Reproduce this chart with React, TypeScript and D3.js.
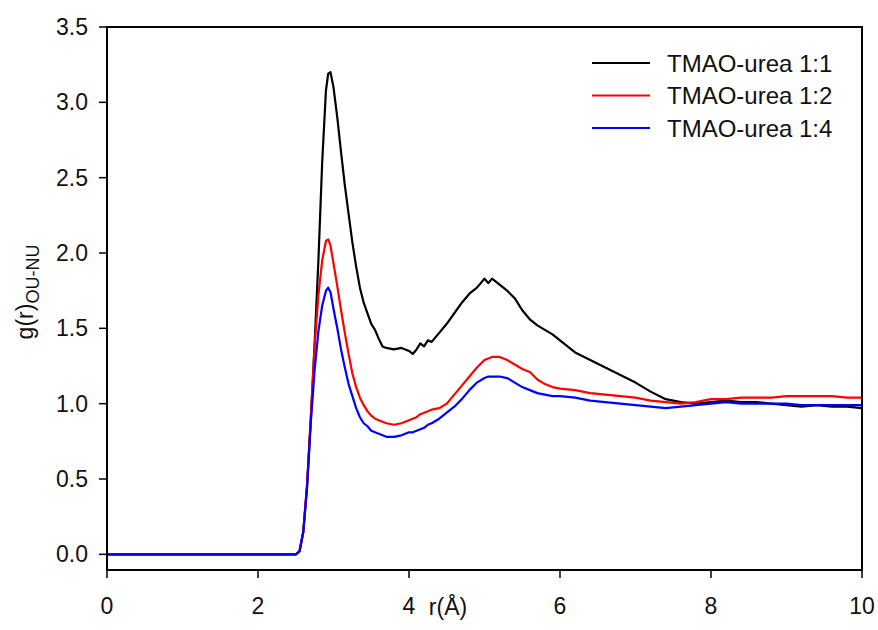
import React from "react";
import * as d3 from "d3";

const rValues = [0, 2.5, 2.55, 2.6, 2.65, 2.7, 2.75, 2.8, 2.85, 2.9, 2.93, 2.96, 3.0, 3.05, 3.1, 3.15, 3.2, 3.25, 3.3, 3.35, 3.4, 3.45, 3.5, 3.55, 3.6, 3.65, 3.7, 3.8, 3.9, 4.0, 4.05, 4.1, 4.15, 4.2, 4.25, 4.3, 4.4, 4.5, 4.6, 4.7, 4.8, 4.9, 5.0, 5.05, 5.1, 5.2, 5.3, 5.4, 5.5, 5.6, 5.7, 5.8, 5.9, 6.0, 6.2, 6.4, 6.6, 6.8, 7.0, 7.2, 7.4, 7.6, 7.8, 8.0, 8.2, 8.4, 8.6, 8.8, 9.0, 9.2, 9.4, 9.6, 9.8, 10.0];

const gRatio11 = [0, 0, 0.02, 0.15, 0.45, 0.9, 1.4, 1.95, 2.6, 3.08, 3.19, 3.2, 3.1, 2.9, 2.67, 2.45, 2.26, 2.07, 1.91, 1.77, 1.67, 1.6, 1.53, 1.49, 1.43, 1.38, 1.37, 1.36, 1.37, 1.35, 1.33, 1.36, 1.40, 1.38, 1.42, 1.41, 1.47, 1.53, 1.60, 1.67, 1.73, 1.77, 1.83, 1.80, 1.83, 1.79, 1.75, 1.70, 1.62, 1.56, 1.52, 1.49, 1.46, 1.42, 1.34, 1.29, 1.24, 1.19, 1.14, 1.08, 1.03, 1.01, 1.00, 1.01, 1.02, 1.01, 1.01, 1.00, 0.99, 0.98, 0.99, 0.98, 0.98, 0.97];

const gRatio12 = [0, 0, 0.02, 0.15, 0.47, 0.92, 1.38, 1.72, 1.95, 2.08, 2.09, 2.05, 1.93, 1.78, 1.62, 1.47, 1.33, 1.2, 1.11, 1.04, 0.99, 0.95, 0.92, 0.9, 0.89, 0.88, 0.87, 0.86, 0.87, 0.89, 0.9, 0.91, 0.93, 0.94, 0.95, 0.96, 0.97, 1.0, 1.06, 1.12, 1.18, 1.24, 1.29, 1.3, 1.31, 1.31, 1.29, 1.26, 1.23, 1.21, 1.16, 1.13, 1.11, 1.1, 1.09, 1.07, 1.06, 1.05, 1.04, 1.02, 1.01, 1.0, 1.01, 1.03, 1.03, 1.04, 1.04, 1.04, 1.05, 1.05, 1.05, 1.05, 1.04, 1.04];

const gRatio14 = [0, 0, 0.02, 0.15, 0.45, 0.88, 1.22, 1.48, 1.65, 1.75, 1.77, 1.74, 1.63, 1.5, 1.36, 1.24, 1.13, 1.05, 0.97, 0.91, 0.87, 0.85, 0.82, 0.81, 0.8, 0.79, 0.78, 0.78, 0.79, 0.81, 0.81, 0.82, 0.83, 0.84, 0.86, 0.87, 0.9, 0.94, 0.98, 1.03, 1.09, 1.14, 1.17, 1.18, 1.18, 1.18, 1.17, 1.14, 1.11, 1.09, 1.07, 1.06, 1.05, 1.05, 1.04, 1.02, 1.01, 1.0, 0.99, 0.98, 0.97, 0.98, 0.99, 1.0, 1.01, 1.0, 1.0, 1.0, 1.0, 0.99, 0.99, 0.99, 0.99, 0.99];

const seriesNames = ["TMAO-urea 1:1", "TMAO-urea 1:2", "TMAO-urea 1:4"];
const seriesColors = ["#000000", "#ff0000", "#0000ff"];
const xTicks = [0, 2, 4, 6, 8, 10];
const yTicks = [0, 0.5, 1.0, 1.5, 2.0, 2.5, 3.0, 3.5];

const W = 878;
const H = 630;
const left = 107;
const right = 862;
const top = 27;
const bottom = 570;
const FONT = "'Liberation Sans', Arial, sans-serif";

export default function App() {
  const x = d3.scaleLinear().domain([0, 10]).range([left, right]);
  const y = d3.scaleLinear().domain([-0.104, 3.5]).range([bottom, top]);
  const line = d3
    .line<[number, number]>()
    .x((d) => x(d[0]))
    .y((d) => y(d[1]));
  const allSeries = [gRatio11, gRatio12, gRatio14];
  return (
    <svg
      width={W}
      height={H}
      style={{ position: "absolute", left: 0, top: 0, background: "#fff" }}
      fontFamily={FONT}
    >
      <rect x={0} y={0} width={W} height={H} fill="#fff" />
      <defs>
        <clipPath id="plotclip">
          <rect x={left} y={top} width={right - left} height={bottom - top} />
        </clipPath>
      </defs>
      <g clipPath="url(#plotclip)">
        {allSeries.map((vals, i) => (
          <path
            key={i}
            d={line(rValues.map((r, j) => [r, vals[j]] as [number, number])) || ""}
            fill="none"
            stroke={seriesColors[i]}
            strokeWidth={2.2}
            strokeLinejoin="round"
          />
        ))}
      </g>
      <rect
        x={left}
        y={top}
        width={right - left}
        height={bottom - top}
        fill="none"
        stroke="#000"
        strokeWidth={2}
      />
      {yTicks.map((t) => (
        <g key={"y" + t}>
          <line x1={left - 8} x2={left} y1={y(t)} y2={y(t)} stroke="#000" strokeWidth={1.5} />
          <text x={88} y={y(t) + 8} textAnchor="end" fontSize={23} fill="#111">
            {t.toFixed(1)}
          </text>
        </g>
      ))}
      {xTicks.map((t) => (
        <g key={"x" + t}>
          <line x1={x(t)} x2={x(t)} y1={bottom} y2={bottom + 8} stroke="#000" strokeWidth={1.5} />
          <text x={x(t)} y={614} textAnchor="middle" fontSize={23} fill="#111">
            {t}
          </text>
        </g>
      ))}
      <text x={448} y={615} textAnchor="middle" fontSize={23} fill="#111">
        r(Å)
      </text>
      <text
        transform={`translate(33, 292) rotate(-90)`}
        textAnchor="middle"
        fontSize={23}
        fill="#111"
      >
        g(r)
        <tspan fontSize={18} dy={6}>
          OU-NU
        </tspan>
      </text>
      {seriesNames.map((n, i) => {
        const ly = 63 + i * 32.5;
        return (
          <g key={n}>
            <line x1={592} x2={650} y1={ly} y2={ly} stroke={seriesColors[i]} strokeWidth={2} />
            <text x={667} y={ly + 8.5} fontSize={24} fill="#111">
              {n}
            </text>
          </g>
        );
      })}
    </svg>
  );
}
